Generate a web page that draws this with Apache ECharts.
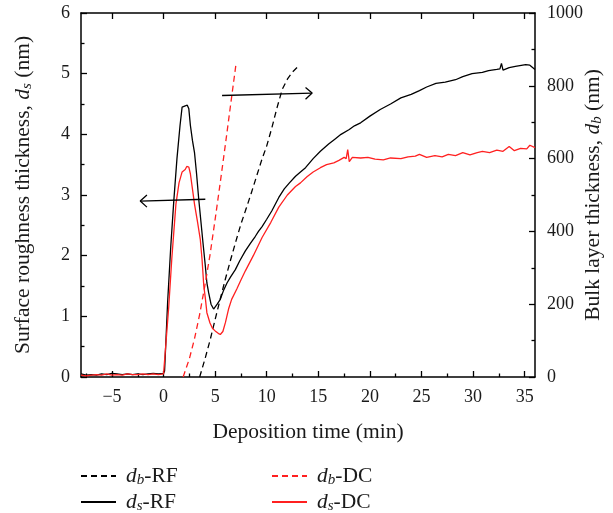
<!DOCTYPE html>
<html>
<head>
<meta charset="utf-8">
<script src="https://cdn.jsdelivr.net/npm/echarts@6/dist/echarts.min.js"></script>
<style>
    html, body { margin: 0; padding: 0; background: #fff; }
    #main { width: 613px; height: 513px; }
</style>
</head>
<body>
<div id="main"></div>
<script>
// time (min) vs surface roughness thickness d_s (nm), left axis
var dsRF = [
    [-8, 0.05], [-7.5, 0.03], [-7, 0.04], [-6.5, 0.03], [-6, 0.05], [-5.5, 0.04], [-5, 0.06], [-4.5, 0.05],
    [-4, 0.04], [-3.5, 0.05], [-3, 0.04], [-2.5, 0.05], [-2, 0.04], [-1.5, 0.05], [-1, 0.06], [-0.5, 0.05],
    [0, 0.06], [0.1, 0.1], [0.4, 1.25], [0.7, 2.15], [1.0, 2.92], [1.3, 3.6], [1.6, 4.15], [1.8, 4.45],
    [1.9, 4.48], [2.1, 4.47], [2.3, 4.48], [2.45, 4.42], [2.6, 4.15], [2.8, 3.9], [3.0, 3.7], [3.2, 3.35],
    [3.4, 2.95], [3.6, 2.6], [3.8, 2.25], [4.05, 1.83], [4.2, 1.55], [4.37, 1.39], [4.6, 1.2], [4.85, 1.12],
    [5.0, 1.14], [5.2, 1.2], [5.5, 1.28], [5.8, 1.42], [6.15, 1.55], [6.5, 1.65], [6.96, 1.77], [7.4, 1.92],
    [7.93, 2.08], [8.4, 2.2], [8.9, 2.32], [9.2, 2.4], [9.55, 2.48], [10, 2.6], [10.5, 2.74], [11.17, 2.96],
    [11.7, 3.1], [12.2, 3.2], [12.79, 3.31], [13.27, 3.38], [13.76, 3.45], [14.5, 3.6], [15.2, 3.72],
    [16, 3.84], [16.6, 3.92], [17.2, 4.0], [18, 4.08], [18.5, 4.14], [19.1, 4.19], [20, 4.3], [21, 4.41],
    [22, 4.5], [23, 4.6], [24, 4.66], [24.8, 4.72], [25.5, 4.78], [26.4, 4.84], [27.3, 4.86], [28.3, 4.9],
    [29, 4.95], [29.9, 5.0], [30.9, 5.02], [31.5, 5.05], [32.3, 5.07], [32.6, 5.08], [32.75, 5.17],
    [32.9, 5.06], [33.5, 5.1], [34.1, 5.12], [35.1, 5.15], [35.5, 5.14], [36, 5.07]
];
var dsDC = [
    [-8, 0.03], [-7.5, 0.02], [-7, 0.03], [-6.5, 0.04], [-6, 0.03], [-5.5, 0.05], [-5, 0.03], [-4.5, 0.04],
    [-4, 0.03], [-3.5, 0.05], [-3, 0.04], [-2.5, 0.04], [-2, 0.05], [-1.5, 0.04], [-1, 0.05], [-0.5, 0.04],
    [0, 0.05], [0.15, 0.08], [0.5, 1.15], [0.8, 1.95], [1.0, 2.4], [1.2, 2.85], [1.5, 3.2], [1.8, 3.38],
    [1.9, 3.4], [2.1, 3.42], [2.25, 3.47], [2.45, 3.46], [2.6, 3.35], [2.8, 3.1], [3.0, 2.85], [3.3, 2.55],
    [3.56, 2.27], [3.73, 1.94], [3.9, 1.5], [4.05, 1.3], [4.2, 1.06], [4.5, 0.89], [4.75, 0.8], [5.0, 0.76],
    [5.3, 0.72], [5.5, 0.7], [5.75, 0.75], [6.0, 0.9], [6.3, 1.12], [6.6, 1.28], [7.1, 1.45], [7.5, 1.6],
    [7.93, 1.75], [8.7, 2.0], [9.55, 2.3], [10.4, 2.55], [11.17, 2.8], [12.0, 3.0], [12.79, 3.14],
    [13.27, 3.2], [13.9, 3.3], [14.5, 3.38], [15.2, 3.45], [15.8, 3.5], [16.5, 3.53], [17.0, 3.57],
    [17.5, 3.62], [17.7, 3.6], [17.85, 3.75], [18.0, 3.55], [18.3, 3.62], [19.1, 3.61], [19.8, 3.62],
    [20.5, 3.59], [21.3, 3.58], [22, 3.61], [23, 3.6], [23.7, 3.63], [24.4, 3.64], [24.8, 3.67], [25.5, 3.62],
    [26.3, 3.65], [27, 3.63], [27.6, 3.67], [28.3, 3.65], [29, 3.7], [29.7, 3.66], [30.4, 3.7], [30.9, 3.72],
    [31.6, 3.7], [32.3, 3.74], [32.9, 3.72], [33.5, 3.8], [34, 3.73], [34.6, 3.77], [35.2, 3.76],
    [35.5, 3.82], [36, 3.78]
];
// time (min) vs bulk layer thickness d_b (nm), right axis
var dbRF = [
    [3.5, 0], [4, 48], [4.5, 100], [5, 158], [5.5, 215], [6, 270], [6.5, 322], [7, 372], [7.5, 420],
    [8, 462], [8.5, 505], [9, 550], [9.5, 595], [10, 635], [10.5, 685], [11, 740], [11.5, 790],
    [12, 818], [12.5, 838], [13, 852]
];
var dbDC = [
    [1.9, 0], [2.2, 25], [2.5, 50], [3, 105], [3.5, 172], [4, 250], [4.5, 335], [5, 433], [5.5, 535],
    [6, 640], [6.5, 748], [7, 855]
];
// annotation arrows (left-axis units)
var leftArrow = [[4.05, 2.93], [-2.26, 2.9]];
var leftArrowHead = [[-1.61, 3.0], [-2.26, 2.9], [-1.61, 2.8]];
var rightArrow = [[5.67, 4.64], [14.4, 4.68]];
var rightArrowHead = [[13.76, 4.77], [14.4, 4.68], [13.76, 4.58]];

var xMajor = [-5, 0, 5, 10, 15, 20, 25, 30, 35];
var xMinor = [-7.5, -2.5, 2.5, 7.5, 12.5, 17.5, 22.5, 27.5, 32.5];

var FONT = '"Liberation Serif", "DejaVu Serif", serif';
var RED = '#ff2020';
var INK = '#1a1a1a';

var rich = {
    n: { fontFamily: FONT, fontSize: 21.5, color: INK },
    i: { fontFamily: FONT, fontSize: 21.5, fontStyle: 'italic', color: INK },
    s: { fontFamily: FONT, fontSize: 15, fontStyle: 'italic', color: INK, verticalAlign: 'bottom', padding: [8, 0, 0, 0] }
};

var legendNames = {
    'db-RF': '{i|d}{s|b}{n|-RF}',
    'ds-RF': '{i|d}{s|s}{n|-RF}',
    'db-DC': '{i|d}{s|b}{n|-DC}',
    'ds-DC': '{i|d}{s|s}{n|-DC}'
};

function lineSeries(name, data, color, dashed, yIndex) {
    return {
        name: name,
        type: 'line',
        data: data,
        yAxisIndex: yIndex,
        showSymbol: false,
        symbol: 'none',
        silent: true,
        lineStyle: { color: color, width: 1.3, type: dashed ? [6, 4] : 'solid' },
        itemStyle: { color: color },
        z: 3
    };
}

function arrowSeries(data) {
    return {
        type: 'line',
        data: data,
        showSymbol: false,
        symbol: 'none',
        silent: true,
        lineStyle: { color: '#000', width: 1.3 },
        z: 4
    };
}

function legendItem(name, left, top) {
    return {
        left: left, top: top, padding: 0, itemWidth: 35, itemHeight: 14, itemGap: 0,
        data: [name],
        itemStyle: { opacity: 0 },
        formatter: function(n) { return legendNames[n]; },
        textStyle: { rich: rich, padding: [0, 0, 0, 5] }
    };
}

var axisLine = { show: true, onZero: false, lineStyle: { color: '#000', width: 1.5 } };
var tickLine = { color: '#000', width: 1.3 };

var myChart = echarts.init(document.getElementById('main'));
var option = {
    backgroundColor: '#fff',
    animation: false,
    grid: { left: 81, right: 78, top: 13, bottom: 136, outerBoundsMode: 'none' },
    legend: [
        legendItem('db-RF', 80, 465),
        legendItem('ds-RF', 80, 491),
        legendItem('db-DC', 271, 465),
        legendItem('ds-DC', 271, 491)
    ],
    xAxis: [{
        type: 'value', min: -8, max: 36, position: 'bottom',
        name: 'Deposition time (min)', nameLocation: 'middle', nameGap: 44, nameMoveOverlap: false,
        nameTextStyle: { fontFamily: FONT, fontSize: 21.5, color: INK },
        axisLine: axisLine,
        axisTick: { show: true, inside: true, length: 6, customValues: xMajor, lineStyle: tickLine },
        axisLabel: {
            customValues: xMajor, margin: 11, fontFamily: FONT, fontSize: 18, color: INK,
            formatter: function(v) { return String(v).replace('-', '\u2212'); }
        },
        splitLine: { show: false }
    }, {
        type: 'value', min: -8, max: 36, position: 'bottom',
        axisLine: { show: false, onZero: false },
        axisTick: { show: true, inside: true, length: 3.5, customValues: xMinor, lineStyle: tickLine },
        axisLabel: { show: false },
        splitLine: { show: false }
    }, {
        type: 'value', min: -8, max: 36, position: 'top',
        axisLine: axisLine,
        axisTick: { show: true, inside: true, length: 6, customValues: xMajor, lineStyle: tickLine },
        axisLabel: { show: false },
        splitLine: { show: false }
    }],
    yAxis: [{
        type: 'value', min: 0, max: 6, interval: 1, position: 'left',
        name: '{n|Surface roughness thickness, }{i|d}{s|s}{n| (nm)}',
        nameLocation: 'middle', nameGap: 46, nameRotate: 90, nameMoveOverlap: false,
        nameTextStyle: { rich: rich },
        axisLine: axisLine,
        axisTick: { show: true, inside: true, length: 6, lineStyle: tickLine },
        minorTick: { show: true, splitNumber: 2, length: 3.5, lineStyle: tickLine },
        axisLabel: { margin: 11, fontFamily: FONT, fontSize: 18, color: INK },
        splitLine: { show: false }
    }, {
        type: 'value', min: 0, max: 1000, interval: 200, position: 'right',
        name: '{n|Bulk layer thickness, }{i|d}{s|b}{n| (nm)}',
        nameLocation: 'middle', nameGap: 47, nameRotate: 90, nameMoveOverlap: false,
        nameTextStyle: { rich: rich },
        axisLine: axisLine,
        axisTick: { show: true, inside: true, length: 6, lineStyle: tickLine },
        minorTick: { show: true, splitNumber: 2, length: 3.5, lineStyle: tickLine },
        axisLabel: {
            margin: 12, fontFamily: FONT, fontSize: 18, color: INK,
            formatter: function(v) { return String(v); }
        },
        splitLine: { show: false }
    }],
    series: [
        lineSeries('db-RF', dbRF, '#000', true, 1),
        lineSeries('ds-RF', dsRF, '#000', false, 0),
        lineSeries('db-DC', dbDC, RED, true, 1),
        lineSeries('ds-DC', dsDC, RED, false, 0),
        arrowSeries(leftArrow),
        arrowSeries(leftArrowHead),
        arrowSeries(rightArrow),
        arrowSeries(rightArrowHead)
    ]
};
myChart.setOption(option);
</script>
</body>
</html>
